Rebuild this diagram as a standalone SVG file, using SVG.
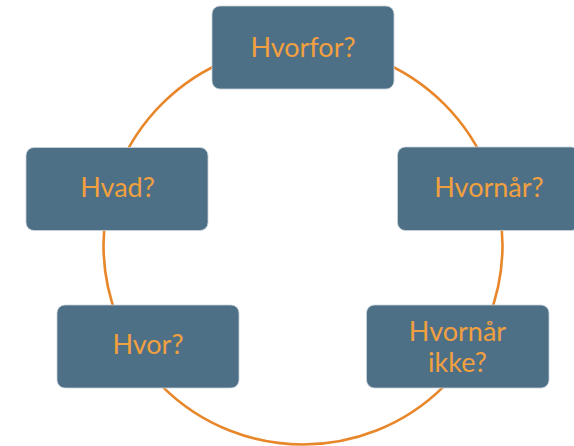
<svg xmlns="http://www.w3.org/2000/svg" width="574" height="446" viewBox="0 0 574 446">
<style>
.box{fill:#4D7086;stroke:#C9D3DA;stroke-width:0.8}
.lbl{fill:#F2A03F;font-family:Lato,"Noto Sans",sans-serif;font-size:27px;font-weight:400;text-anchor:middle}
.ring{fill:none;stroke:#E8862A;stroke-width:2.6}
</style>
<rect width="574" height="446" fill="#FFFFFF"/>
<g id="connectors">
<circle class="ring" cx="303" cy="245" r="199.5"/>
</g>
<g id="hvorfor">
<rect class="box" x="212" y="6" width="182" height="83" rx="8"/>
<text class="lbl" x="303" y="56.7">Hvorfor?</text>
</g>
<g id="hvornaar">
<rect class="box" x="397.5" y="147" width="182" height="83.5" rx="8"/>
<text class="lbl" x="489" y="196.7">Hvornår?</text>
</g>
<g id="hvornaar-ikke">
<rect class="box" x="366.5" y="305" width="182.5" height="83" rx="8"/>
<text class="lbl" x="457.5" y="340.7">Hvornår</text>
<text class="lbl" x="457.5" y="371.7">ikke?</text>
</g>
<g id="hvad">
<rect class="box" x="26" y="147.5" width="182" height="83" rx="8"/>
<text class="lbl" x="117.5" y="197.3">Hvad?</text>
</g>
<g id="hvor">
<rect class="box" x="57" y="305" width="182" height="83" rx="8"/>
<text class="lbl" x="148" y="354.3">Hvor?</text>
</g>
</svg>
